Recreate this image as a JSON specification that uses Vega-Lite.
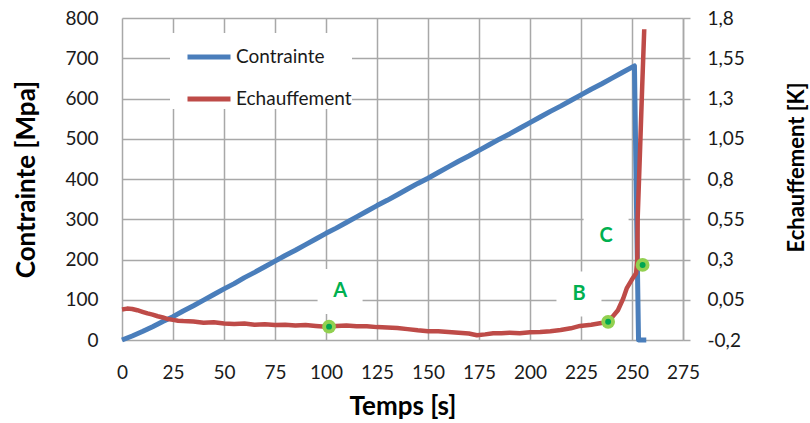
{
  "$schema": "https://vega.github.io/schema/vega-lite/v6.json",
  "width": 561,
  "height": 322,
  "autosize": {"type": "none"},
  "padding": {"left": 122, "top": 18, "right": 127, "bottom": 83},
  "background": "white",
  "datasets": {
    "contrainte": [
      {"t": 0, "mpa": 0, "serie": "Contrainte"},
      {"t": 5, "mpa": 10, "serie": "Contrainte"},
      {"t": 10, "mpa": 21, "serie": "Contrainte"},
      {"t": 15, "mpa": 33, "serie": "Contrainte"},
      {"t": 20, "mpa": 46, "serie": "Contrainte"},
      {"t": 25, "mpa": 58, "serie": "Contrainte"},
      {"t": 30, "mpa": 72, "serie": "Contrainte"},
      {"t": 35, "mpa": 85, "serie": "Contrainte"},
      {"t": 40, "mpa": 99, "serie": "Contrainte"},
      {"t": 45, "mpa": 113, "serie": "Contrainte"},
      {"t": 50, "mpa": 127, "serie": "Contrainte"},
      {"t": 55, "mpa": 140, "serie": "Contrainte"},
      {"t": 60, "mpa": 155, "serie": "Contrainte"},
      {"t": 65, "mpa": 168, "serie": "Contrainte"},
      {"t": 70, "mpa": 182, "serie": "Contrainte"},
      {"t": 75, "mpa": 196, "serie": "Contrainte"},
      {"t": 80, "mpa": 210, "serie": "Contrainte"},
      {"t": 85, "mpa": 223, "serie": "Contrainte"},
      {"t": 90, "mpa": 237, "serie": "Contrainte"},
      {"t": 95, "mpa": 251, "serie": "Contrainte"},
      {"t": 100, "mpa": 265, "serie": "Contrainte"},
      {"t": 105, "mpa": 278, "serie": "Contrainte"},
      {"t": 110, "mpa": 292, "serie": "Contrainte"},
      {"t": 115, "mpa": 306, "serie": "Contrainte"},
      {"t": 120, "mpa": 320, "serie": "Contrainte"},
      {"t": 125, "mpa": 334, "serie": "Contrainte"},
      {"t": 130, "mpa": 347, "serie": "Contrainte"},
      {"t": 135, "mpa": 361, "serie": "Contrainte"},
      {"t": 140, "mpa": 375, "serie": "Contrainte"},
      {"t": 145, "mpa": 389, "serie": "Contrainte"},
      {"t": 150, "mpa": 402, "serie": "Contrainte"},
      {"t": 155, "mpa": 416, "serie": "Contrainte"},
      {"t": 160, "mpa": 430, "serie": "Contrainte"},
      {"t": 165, "mpa": 444, "serie": "Contrainte"},
      {"t": 170, "mpa": 457, "serie": "Contrainte"},
      {"t": 175, "mpa": 471, "serie": "Contrainte"},
      {"t": 180, "mpa": 485, "serie": "Contrainte"},
      {"t": 185, "mpa": 499, "serie": "Contrainte"},
      {"t": 190, "mpa": 512, "serie": "Contrainte"},
      {"t": 195, "mpa": 526, "serie": "Contrainte"},
      {"t": 200, "mpa": 540, "serie": "Contrainte"},
      {"t": 205, "mpa": 554, "serie": "Contrainte"},
      {"t": 210, "mpa": 568, "serie": "Contrainte"},
      {"t": 215, "mpa": 581, "serie": "Contrainte"},
      {"t": 220, "mpa": 595, "serie": "Contrainte"},
      {"t": 225, "mpa": 609, "serie": "Contrainte"},
      {"t": 230, "mpa": 623, "serie": "Contrainte"},
      {"t": 235, "mpa": 636, "serie": "Contrainte"},
      {"t": 240, "mpa": 650, "serie": "Contrainte"},
      {"t": 245, "mpa": 664, "serie": "Contrainte"},
      {"t": 251.2, "mpa": 681, "serie": "Contrainte"},
      {"t": 252.3, "mpa": 300, "serie": "Contrainte"},
      {"t": 253.2, "mpa": 0, "serie": "Contrainte"},
      {"t": 257, "mpa": 0, "serie": "Contrainte"}
    ],
    "echauffement": [
      {"t": 0, "k": -0.01, "serie": "Echauffement"},
      {"t": 2.5, "k": -0.005, "serie": "Echauffement"},
      {"t": 5, "k": -0.0075, "serie": "Echauffement"},
      {"t": 7.5, "k": -0.015, "serie": "Echauffement"},
      {"t": 10, "k": -0.025, "serie": "Echauffement"},
      {"t": 12.5, "k": -0.035, "serie": "Echauffement"},
      {"t": 15, "k": -0.0425, "serie": "Echauffement"},
      {"t": 17.5, "k": -0.0525, "serie": "Echauffement"},
      {"t": 20, "k": -0.06, "serie": "Echauffement"},
      {"t": 22.5, "k": -0.07, "serie": "Echauffement"},
      {"t": 25, "k": -0.075, "serie": "Echauffement"},
      {"t": 27.5, "k": -0.08, "serie": "Echauffement"},
      {"t": 30, "k": -0.0825, "serie": "Echauffement"},
      {"t": 35, "k": -0.085, "serie": "Echauffement"},
      {"t": 40, "k": -0.0925, "serie": "Echauffement"},
      {"t": 45, "k": -0.09, "serie": "Echauffement"},
      {"t": 50, "k": -0.0975, "serie": "Echauffement"},
      {"t": 55, "k": -0.1, "serie": "Echauffement"},
      {"t": 60, "k": -0.0975, "serie": "Echauffement"},
      {"t": 65, "k": -0.105, "serie": "Echauffement"},
      {"t": 70, "k": -0.1025, "serie": "Echauffement"},
      {"t": 75, "k": -0.1075, "serie": "Echauffement"},
      {"t": 80, "k": -0.105, "serie": "Echauffement"},
      {"t": 85, "k": -0.11, "serie": "Echauffement"},
      {"t": 90, "k": -0.1075, "serie": "Echauffement"},
      {"t": 95, "k": -0.1125, "serie": "Echauffement"},
      {"t": 100, "k": -0.1175, "serie": "Echauffement"},
      {"t": 105, "k": -0.1125, "serie": "Echauffement"},
      {"t": 110, "k": -0.11, "serie": "Echauffement"},
      {"t": 115, "k": -0.115, "serie": "Echauffement"},
      {"t": 120, "k": -0.115, "serie": "Echauffement"},
      {"t": 125, "k": -0.12, "serie": "Echauffement"},
      {"t": 130, "k": -0.1225, "serie": "Echauffement"},
      {"t": 135, "k": -0.125, "serie": "Echauffement"},
      {"t": 140, "k": -0.1325, "serie": "Echauffement"},
      {"t": 145, "k": -0.14, "serie": "Echauffement"},
      {"t": 150, "k": -0.145, "serie": "Echauffement"},
      {"t": 155, "k": -0.145, "serie": "Echauffement"},
      {"t": 160, "k": -0.15, "serie": "Echauffement"},
      {"t": 165, "k": -0.155, "serie": "Echauffement"},
      {"t": 170, "k": -0.16, "serie": "Echauffement"},
      {"t": 174, "k": -0.17, "serie": "Echauffement"},
      {"t": 178, "k": -0.165, "serie": "Echauffement"},
      {"t": 182, "k": -0.1575, "serie": "Echauffement"},
      {"t": 186, "k": -0.1575, "serie": "Echauffement"},
      {"t": 190, "k": -0.155, "serie": "Echauffement"},
      {"t": 195, "k": -0.1575, "serie": "Echauffement"},
      {"t": 200, "k": -0.1525, "serie": "Echauffement"},
      {"t": 205, "k": -0.15, "serie": "Echauffement"},
      {"t": 210, "k": -0.145, "serie": "Echauffement"},
      {"t": 215, "k": -0.1375, "serie": "Echauffement"},
      {"t": 220, "k": -0.1275, "serie": "Echauffement"},
      {"t": 224.5, "k": -0.1125, "serie": "Echauffement"},
      {"t": 230, "k": -0.105, "serie": "Echauffement"},
      {"t": 235, "k": -0.095, "serie": "Echauffement"},
      {"t": 238.3, "k": -0.085, "serie": "Echauffement"},
      {"t": 240.5, "k": -0.055, "serie": "Echauffement"},
      {"t": 243.1, "k": -0.015, "serie": "Echauffement"},
      {"t": 245.7, "k": 0.0575, "serie": "Echauffement"},
      {"t": 247.4, "k": 0.12, "serie": "Echauffement"},
      {"t": 249.8, "k": 0.1725, "serie": "Echauffement"},
      {"t": 252.0, "k": 0.215, "serie": "Echauffement"},
      {"t": 252.6, "k": 0.3, "serie": "Echauffement"},
      {"t": 252.8, "k": 0.5625, "serie": "Echauffement"},
      {"t": 254.0, "k": 1.0, "serie": "Echauffement"},
      {"t": 255.0, "k": 1.375, "serie": "Echauffement"},
      {"t": 256.0, "k": 1.73, "serie": "Echauffement"}
    ],
    "labels": [
      {"t": 106.9, "mpa": 120.5, "label": "A"},
      {"t": 224.0, "mpa": 114, "label": "B"},
      {"t": 237.3, "mpa": 258, "label": "C"}
    ],
    "points": [
      {"t": 101.5, "k": -0.117, "label": "A"},
      {"t": 238.3, "k": -0.087, "label": "B"},
      {"t": 255.2, "k": 0.266, "label": "C"}
    ]
  },
  "encoding": {
    "x": {
      "field": "t",
      "type": "quantitative",
      "scale": {"domain": [0, 275], "nice": false, "zero": false},
      "axis": {
        "values": [0, 25, 50, 75, 100, 125, 150, 175, 200, 225, 250, 275],
        "grid": true,
        "ticks": false,
        "domain": false,
        "labelPadding": 23,
        "labelOverlap": false,
        "labelFlush": false,
        "title": "Temps [s]",
        "titleFontSize": 26,
        "titleY": 74,
        "titleBaseline": "alphabetic",
        "titleAlign": "center"
      }
    }
  },
  "layer": [
    {
      "encoding": {
        "y": {
          "field": "mpa",
          "type": "quantitative",
          "scale": {"domain": [0, 800], "nice": false},
          "axis": {
            "values": [0, 100, 200, 300, 400, 500, 600, 700, 800],
            "grid": true,
            "ticks": false,
            "domain": false,
            "labelPadding": 24,
            "title": "Contrainte [Mpa]",
            "titleFontSize": 26,
            "titleAngle": 270,
            "titleX": -88,
            "titleY": 161,
            "titleBaseline": "alphabetic",
            "titleAlign": "center"
          }
        }
      },
      "layer": [
        {
          "data": {"name": "labels"},
          "mark": {"type": "point", "shape": "square", "filled": true, "fill": "white", "stroke": null, "size": 2025, "opacity": 1}
        },
        {
          "data": {"name": "contrainte"},
          "mark": {"type": "line", "strokeWidth": 5, "strokeJoin": "round"},
          "encoding": {
            "color": {
              "field": "serie",
              "type": "nominal",
              "scale": {"domain": ["Contrainte", "Echauffement"], "range": ["#4a7ebb", "#be4b48"]},
              "legend": {
                "title": null,
                "orient": "none",
                "legendX": 48,
                "legendY": 15,
                "symbolType": "stroke",
                "symbolSize": 1849,
                "symbolStrokeWidth": 5,
                "symbolOffset": 15,
                "labelOffset": 3,
                "rowPadding": 8,
                "padding": 0,
                "fillColor": "white",
                "labelFont": "Lato",
                "labelFontSize": 19,
                "labelColor": "#1a1a1a"
              }
            }
          }
        },
        {
          "data": {"name": "labels"},
          "mark": {"type": "text", "font": "Lato", "fontWeight": "bold", "fontSize": 20, "color": "#00b050"},
          "encoding": {"text": {"field": "label", "type": "nominal"}}
        }
      ]
    },
    {
      "encoding": {
        "y": {
          "field": "k",
          "type": "quantitative",
          "scale": {"domain": [-0.2, 1.8], "nice": false, "zero": false},
          "axis": {
            "orient": "right",
            "values": [-0.2, 0.05, 0.3, 0.55, 0.8, 1.05, 1.3, 1.55, 1.8],
            "grid": false,
            "domain": true,
            "ticks": true,
            "tickSize": 7,
            "labelPadding": 17,
            "labelExpr": "replace(toString(datum.value), '.', ',')",
            "title": "Echauffement [K]",
            "titleAngle": 270,
            "titleX": 120,
            "titleY": 149,
            "titleBaseline": "alphabetic",
            "titleAlign": "center",
            "titleFontSize": 22
          }
        }
      },
      "layer": [
        {
          "data": {"name": "echauffement"},
          "mark": {"type": "line", "strokeWidth": 4.5, "strokeJoin": "round"},
          "encoding": {"color": {"field": "serie", "type": "nominal"}}
        },
        {
          "data": {"name": "points"},
          "mark": {"type": "point", "filled": true, "fill": "#92d050", "stroke": null, "size": 190, "opacity": 1}
        },
        {
          "data": {"name": "points"},
          "mark": {"type": "point", "filled": true, "fill": "#00a651", "stroke": null, "size": 35, "opacity": 1}
        }
      ]
    }
  ],
  "resolve": {"scale": {"y": "independent"}},
  "config": {
    "view": {"stroke": null},
    "font": "Lato",
    "axis": {
      "labelFont": "Lato",
      "titleFont": "Lato",
      "labelColor": "#1a1a1a",
      "titleColor": "#000000",
      "labelFontSize": 19,
      "titleFontSize": 24,
      "titleFontWeight": "bold",
      "gridColor": "#a8a8a8",
      "gridWidth": 1.5,
      "gridOpacity": 1,
      "domainColor": "#a8a8a8",
      "domainWidth": 1.5,
      "tickColor": "#a8a8a8",
      "tickWidth": 1.5
    }
  }
}
